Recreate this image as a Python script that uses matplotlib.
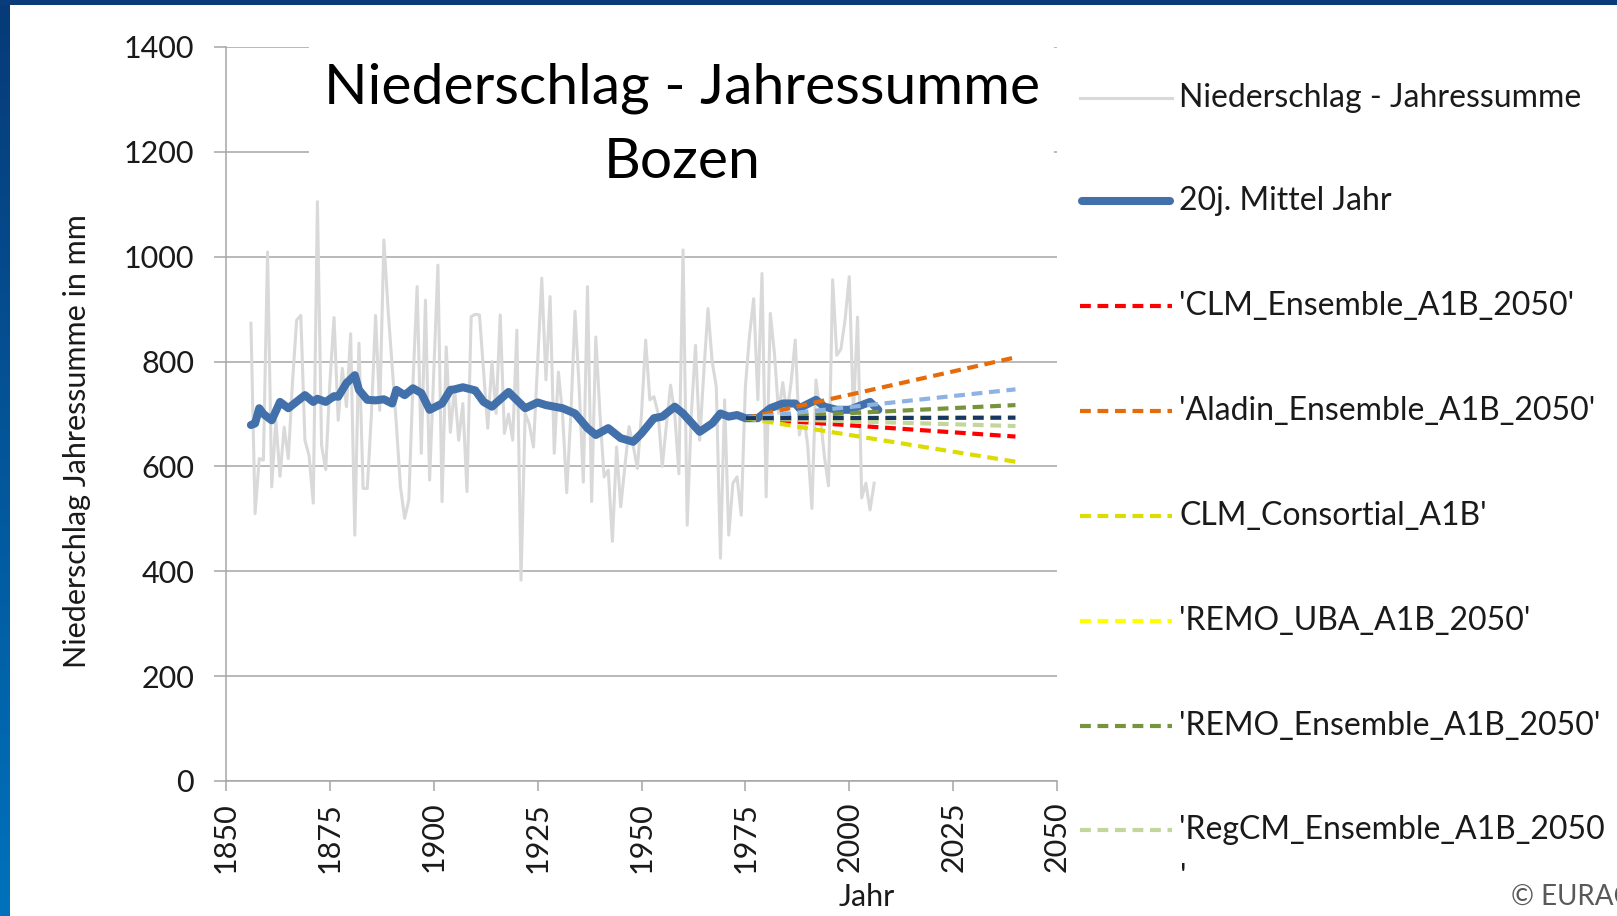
import numpy as np
import matplotlib
matplotlib.use('Agg')
import matplotlib.pyplot as plt
from matplotlib.lines import Line2D
from matplotlib.patches import Rectangle
from matplotlib.colors import LinearSegmentedColormap

plt.rcParams['font.family'] = ['Lato', 'DejaVu Sans']

# annual precipitation sums, Bozen (mm)
years = np.arange(1856, 2007)
precip = [873, 510, 615, 612, 1009, 561, 688, 581, 675, 615,
          760, 879, 888, 650, 620, 530, 1105, 640, 594, 760,
          884, 688, 787, 714, 853, 469, 835, 558, 558, 700,
          888, 707, 1032, 900, 790, 680, 560, 501, 536, 760,
          943, 625, 917, 574, 780, 984, 533, 828, 665, 750,
          650, 720, 552, 886, 890, 889, 780, 673, 800, 701,
          889, 663, 700, 650, 860, 383, 701, 680, 637, 800,
          959, 765, 924, 625, 780, 700, 550, 700, 896, 750,
          570, 943, 533, 847, 700, 580, 593, 457, 637, 523,
          600, 676, 640, 596, 700, 841, 727, 733, 701, 600,
          680, 755, 700, 586, 1013, 488, 700, 831, 650, 780,
          901, 800, 752, 425, 727, 469, 568, 580, 507, 752,
          850, 920, 727, 968, 542, 892, 815, 701, 760, 700,
          760, 841, 660, 700, 640, 520, 765, 700, 620, 563,
          956, 812, 824, 880, 962, 700, 885, 540, 568, 517,
          568]

# 20-year running mean
mean_years = [1856, 1857, 1858, 1859, 1861, 1863, 1865, 1869, 1871, 1872,
              1874, 1876, 1877, 1879, 1881, 1882, 1884, 1886, 1888, 1890,
              1891, 1893, 1895, 1897, 1899, 1902, 1904, 1905, 1907, 1909,
              1910, 1912, 1914, 1918, 1922, 1925, 1927, 1931, 1934, 1937,
              1939, 1942, 1945, 1948, 1950, 1953, 1955, 1958, 1960, 1964,
              1967, 1969, 1971, 1973, 1975, 1978, 1981, 1984, 1987, 1988,
              1992, 1994, 1997, 2000, 2005, 2007]
mean_vals = [679, 682, 711, 700, 688, 723, 711, 736, 723, 729,
             723, 734, 733, 759, 774, 746, 727, 726, 728, 720,
             746, 736, 749, 740, 708, 720, 746, 747, 751, 747,
             745, 723, 714, 742, 711, 722, 717, 711, 701, 673,
             660, 673, 654, 647, 663, 692, 695, 714, 701, 666,
             682, 701, 695, 698, 692, 692, 711, 720, 720, 711,
             727, 714, 708, 708, 723, 708]

# scenario trends 1975 -> 2040
scen_years = [1975, 2040]
scen_start = 692
scen_names = ["'CLM_Ensemble_A1B_2050'", "'Aladin_Ensemble_A1B_2050'",
              "CLM_Consortial_A1B'", "'REMO_UBA_A1B_2050'",
              "'REMO_Ensemble_A1B_2050'", "'RegCM_Ensemble_A1B_2050",
              "light blue", "navy"]
scen_end = [657, 808, 609, 693, 717, 677, 747, 693]
scen_colors = ['#ff0000', '#e46c0a', '#dcdc00', '#ffff00',
               '#77933c', '#c3d69b', '#8db3e2', '#17375e']

fig = plt.figure(figsize=(16.17, 9.16), dpi=100)
W, H = 1617, 916
ax = fig.add_axes([226/W, 1-781/H, 831/W, 734/H])

ax.plot(years, precip, color='#d9d9d9', lw=2.2, zorder=2)
ax.plot(mean_years, mean_vals, color='#4170aa', lw=5.8, zorder=3,
        solid_capstyle='round', solid_joinstyle='round')
for i in [3, 0, 1, 2, 4, 5, 6, 7]:
    ax.plot(scen_years, [scen_start, scen_end[i]], color=scen_colors[i],
            lw=3, dashes=(2.6, 1.6), zorder=4)

ax.set_xlim(1850, 2050)
ax.set_ylim(0, 1400)
ax.set_xticks(np.arange(1850, 2051, 25))
ax.set_yticks(np.arange(0, 1401, 200))
ax.set_axisbelow(True)
ax.grid(axis='y', color='#a6a6a6', lw=1.1)
ax.grid(axis='x', visible=False)
for s in ['top', 'right']:
    ax.spines[s].set_visible(False)
for s in ['left', 'bottom']:
    ax.spines[s].set_color('#a6a6a6')
    ax.spines[s].set_linewidth(1.1)
ax.tick_params(axis='y', direction='out', length=9, width=1.1, color='#a6a6a6',
               labelsize=22, pad=14, labelcolor='#1a1a1a')
ax.tick_params(axis='x', direction='out', length=7, width=1.1, color='#a6a6a6',
               labelsize=22, pad=8, labelcolor='#1a1a1a', labelrotation=90)

# white title box covering upper gridlines
ax.add_patch(Rectangle((0.1, 0.805), 0.896, 0.25, transform=ax.transAxes,
                       facecolor='white', edgecolor='none', zorder=1.5, clip_on=False))
fig.text(682/W, 1-103/H, 'Niederschlag - Jahressumme', ha='center', va='baseline',
         fontsize=41, color='#000000')
fig.text(682/W, 1-178/H, 'Bozen', ha='center', va='baseline', fontsize=41, color='#000000')

fig.text(77/W, 1-441/H, 'Niederschlag Jahressumme in mm', rotation=90,
         ha='center', va='center', fontsize=22, color='#1a1a1a')
fig.text(867/W, 1-897/H, 'Jahr', ha='center', va='center', fontsize=22, color='#1a1a1a')
fig.text(1511/W, 1-897/H, '© EURAC', ha='left', va='center', fontsize=20, color='#595959')

# legend
leg_y = [98, 201, 306, 411, 516, 621, 726, 830]
leg_labels = ['Niederschlag - Jahressumme', '20j. Mittel Jahr'] + scen_names[:6]
leg_colors = ['#d9d9d9', '#4170aa'] + scen_colors[:6]
for k, (yy, lab, col) in enumerate(zip(leg_y, leg_labels, leg_colors)):
    yf = 1 - yy/H
    if k == 0:
        ln = Line2D([1080/W, 1172/W], [yf, yf], color=col, lw=2.2)
    elif k == 1:
        ln = Line2D([1082/W, 1170/W], [yf, yf], color=col, lw=5.8, solid_capstyle='round')
    else:
        ln = Line2D([1080/W, 1172/W], [yf, yf], color=col, lw=3, dashes=(2.6, 1.6))
    fig.add_artist(ln)
    fig.text(1179/W, yf, lab, ha='left', va='center', fontsize=23, color='#1a1a1a')
fig.text(1180/W, 1-887/H, "'", ha='left', va='baseline', fontsize=23, color='#1a1a1a')

# blue frame
fig.add_artist(Rectangle((0, 1-5/H), 1, 5/H, transform=fig.transFigure,
                         facecolor='#0a3c7c', edgecolor='none'))
bax = fig.add_axes([0, 0, 9/W, 1])
grad = np.linspace(0, 1, 256).reshape(-1, 1)
cmap = LinearSegmentedColormap.from_list('frame', ['#073a78', '#0072bc'])
bax.imshow(grad, aspect='auto', cmap=cmap)
bax.axis('off')

fig.savefig('out.png', dpi=100)
